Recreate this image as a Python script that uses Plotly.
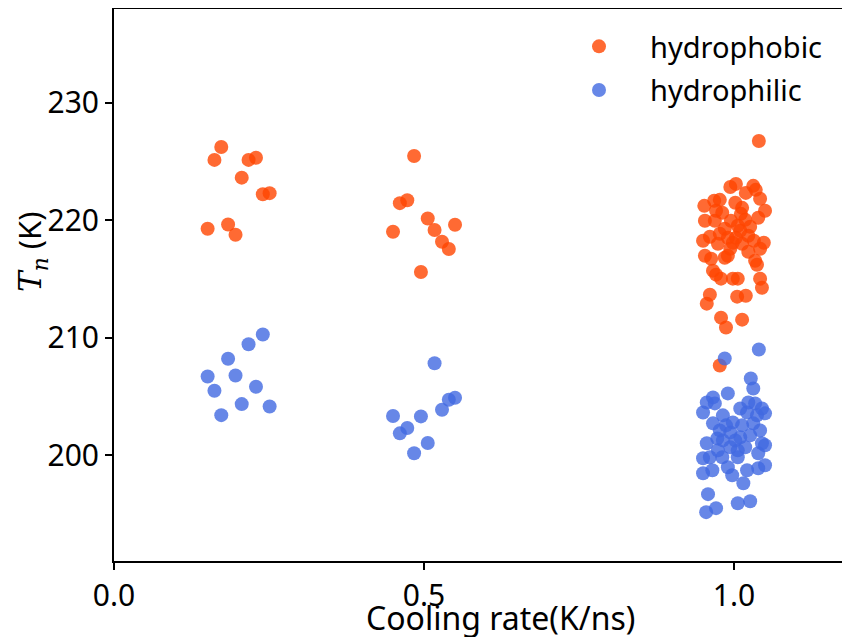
import plotly.graph_objects as go

# ---- data (cooling rate K/ns, Tn K) ----
phobic_x_02 = [0.173, 0.162, 0.217, 0.229, 0.206, 0.240, 0.251, 0.151, 0.184, 0.196]
phobic_y_02 = [226.25, 225.15, 225.15, 225.34, 223.64, 222.23, 222.32, 219.29, 219.65, 218.78]
philic_x_02 = [0.240, 0.217, 0.184, 0.151, 0.196, 0.162, 0.229, 0.206, 0.251, 0.173]
philic_y_02 = [210.28, 209.46, 208.22, 206.71, 206.80, 205.50, 205.84, 204.36, 204.16, 203.42]

phobic_x_05 = [0.484, 0.461, 0.473, 0.506, 0.550, 0.450, 0.517, 0.529, 0.540, 0.495]
phobic_y_05 = [225.49, 221.47, 221.72, 220.16, 219.63, 219.03, 219.18, 218.18, 217.56, 215.61]
philic_x_05 = [0.517, 0.540, 0.550, 0.529, 0.450, 0.495, 0.473, 0.461, 0.506, 0.484]
philic_y_05 = [207.84, 204.73, 204.90, 203.88, 203.34, 203.31, 202.32, 201.87, 201.05, 200.17]

phobic_x_10 = [1.040, 0.994, 1.003, 1.031, 1.035, 1.019, 0.952, 0.968, 0.977, 0.971,
               1.002, 1.013, 1.011, 1.042, 1.050, 1.039, 0.953, 0.969, 0.995, 1.018,
               1.006, 0.985, 1.026, 0.950, 0.961, 0.977, 0.990, 1.003, 1.023, 1.032,
               1.048, 1.042, 0.998, 1.013, 0.974, 0.953, 0.963, 0.985, 0.990, 1.023,
               1.034, 1.037, 0.966, 0.971, 0.979, 0.998, 1.006, 1.042, 1.045, 0.961,
               0.956, 1.005, 1.019, 0.979, 0.987, 1.013, 0.977, 0.994, 1.010, 0.981]
phobic_y_10 = [226.76, 222.85, 223.11, 222.94, 222.60, 222.34, 221.24, 221.67, 221.75, 220.82,
               221.50, 221.07, 220.56, 221.84, 220.82, 220.22, 219.97, 219.97, 219.97, 220.05,
               219.54, 219.29, 219.46, 218.27, 218.61, 218.86, 218.52, 218.52, 218.69, 218.27,
               218.10, 217.59, 218.10, 218.01, 218.01, 216.99, 216.74, 216.82, 216.99, 217.33,
               216.57, 216.23, 215.72, 215.38, 215.04, 215.04, 215.04, 215.04, 214.27, 213.68,
               212.91, 213.51, 213.59, 211.72, 210.88, 211.55, 207.65, 217.59, 219.12, 220.65]
philic_x_10 = [1.040, 0.985, 1.027, 1.031, 0.990, 0.966, 0.956, 0.950, 0.969, 1.023,
               1.034, 1.045, 1.050, 1.010, 1.021, 1.037, 0.982, 0.966, 0.998, 1.013,
               1.031, 0.956, 0.973, 0.982, 0.994, 1.006, 1.018, 1.045, 1.039, 0.950,
               0.961, 0.981, 1.006, 0.950, 0.965, 0.990, 0.997, 1.015, 1.021, 1.039,
               1.050, 0.958, 0.955, 0.971, 1.006, 1.026, 0.977, 0.994, 1.010, 1.026,
               0.987, 1.002, 1.042, 0.974, 1.050]
philic_y_10 = [209.01, 208.24, 206.54, 205.69, 205.27, 204.93, 204.50, 203.65, 204.42, 204.50,
               204.42, 203.99, 203.57, 203.99, 203.65, 203.40, 203.40, 202.72, 202.80, 202.55,
               202.72, 201.02, 201.44, 201.27, 200.68, 200.42, 200.68, 201.02, 200.17, 199.75,
               199.83, 199.83, 199.83, 198.47, 198.73, 198.98, 198.30, 197.62, 198.73, 198.90,
               199.15, 196.69, 195.16, 195.50, 195.92, 196.09, 202.12, 201.95, 201.53, 201.70,
               202.55, 201.27, 202.12, 200.42, 200.85]

x_ticks = [0.0, 0.5, 1.0]
x_tick_labels = ["0.0", "0.5", "1.0"]
y_ticks = [200, 210, 220, 230]
x_title = "Cooling rate(K/ns)"
y_title = '<span style="font-family:DejaVu Serif"><i>T</i><sub><i>n</i></sub></span> (K)'

phobic_x = phobic_x_02 + phobic_x_05 + phobic_x_10
phobic_y = phobic_y_02 + phobic_y_05 + phobic_y_10
philic_x = philic_x_02 + philic_x_05 + philic_x_10
philic_y = philic_y_02 + philic_y_05 + philic_y_10

FONT = "Noto Sans, DejaVu Sans, sans-serif"
# the page body adds an 8px offset, so the figure is 8px smaller than the window
W, H = 842, 629
ML, MR, MT, MB = 106, 0, 1, 76
PW, PH = W - ML - MR, H - MT - MB

fig = go.Figure()
fig.add_trace(go.Scatter(
    x=phobic_x, y=phobic_y, mode="markers", name="hydrophobic",
    legendgroup="a",
    marker=dict(color="#FF4500", size=14, opacity=0.8, line=dict(width=0)),
))
fig.add_trace(go.Scatter(
    x=philic_x, y=philic_y, mode="markers", name="hydrophilic",
    legendgroup="b",
    marker=dict(color="#4169E1", size=14, opacity=0.8, line=dict(width=0)),
))

fig.update_layout(
    width=W, height=H,
    margin=dict(l=ML, r=MR, t=MT, b=MB, autoexpand=False),
    paper_bgcolor="white", plot_bgcolor="white",
    font=dict(family=FONT, size=30, color="black"),
    showlegend=True,
    legend=dict(
        x=(540 - ML) / PW, y=1 - (13 - MT) / PH, xanchor="left", yanchor="top",
        bgcolor="rgba(0,0,0,0)", font=dict(size=29, family=FONT),
        itemwidth=92, tracegroupgap=3, traceorder="grouped",
    ),
    xaxis=dict(
        range=[0, 1.187], tickmode="array", tickvals=x_ticks, ticktext=x_tick_labels,
        showgrid=False, zeroline=False, showline=True, linecolor="black", linewidth=2,
        mirror=True, ticks="outside", ticklen=7, tickwidth=2, tickcolor="black",
        tickfont=dict(size=30, family=FONT), automargin=False,
    ),
    yaxis=dict(
        range=[191, 238], tickmode="array", tickvals=y_ticks,
        showgrid=False, zeroline=False, showline=True, linecolor="black", linewidth=2,
        ticks="outside", ticklen=7, tickwidth=2, tickcolor="black",
        tickfont=dict(size=30, family=FONT), automargin=False,
    ),
    annotations=[
        dict(text=x_title, xref="paper", yref="paper",
             x=(492 - ML) / PW, y=-(609 - MT - PH) / PH,
             xanchor="center", yanchor="middle", showarrow=False,
             font=dict(size=32, family=FONT)),
        dict(text=y_title, xref="paper", yref="paper",
             x=-(ML - 23) / PW, y=(H - MB - 244) / PH,
             xanchor="center", yanchor="middle", showarrow=False, textangle=-90,
             font=dict(size=31, family=FONT)),
    ],
)

fig.write_html("out.html")
